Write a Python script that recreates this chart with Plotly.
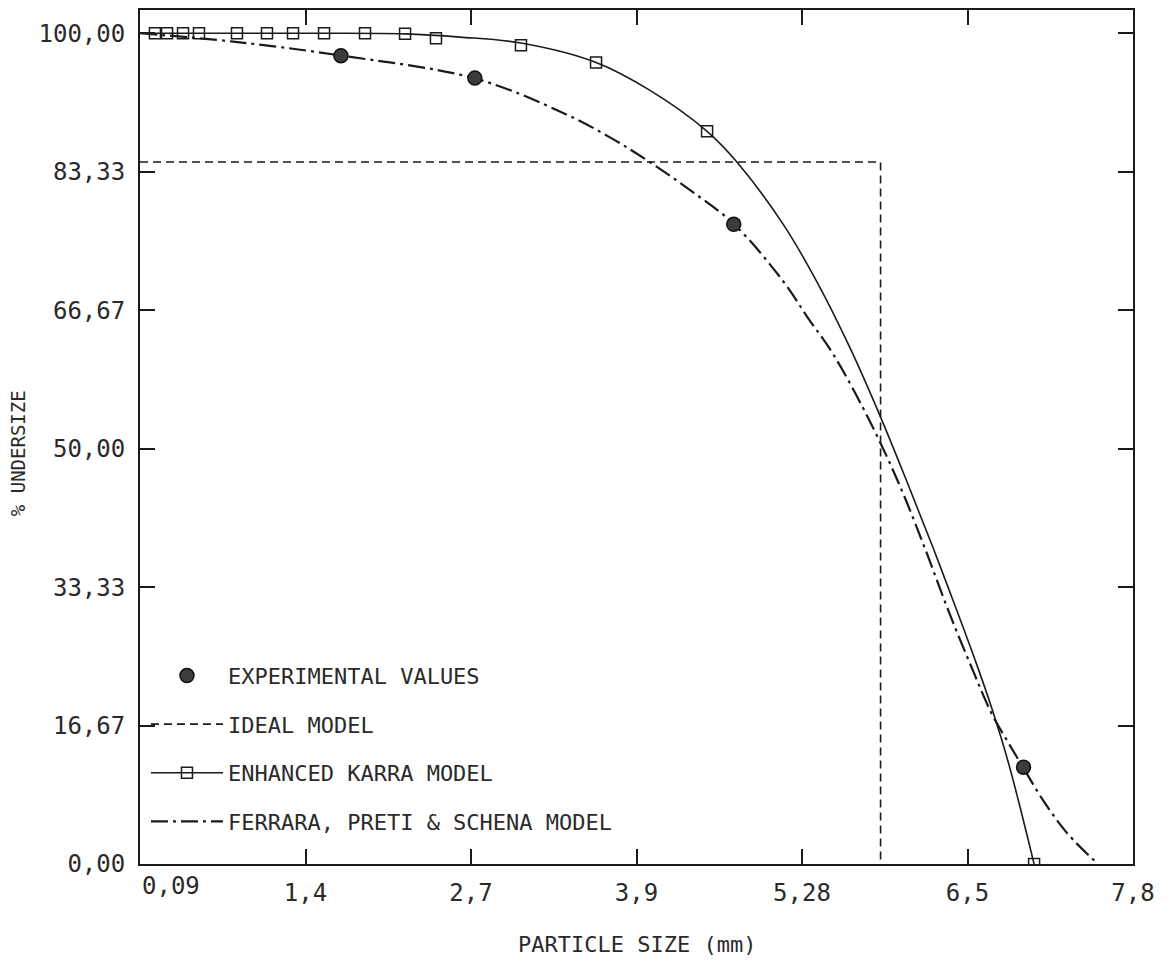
import plotly.graph_objects as go

# ---------------- data ----------------
x_tick_vals = [0.09, 1.375, 2.66, 3.945, 5.23, 6.515, 7.8]
x_tick_labels = ["0,09", "1,4", "2,7", "3,9", "5,28", "6,5", "7,8"]
y_tick_vals = [0, 16.67, 33.33, 50, 66.67, 83.33, 100]
y_tick_labels = ["0,00", "16,67", "33,33", "50,00", "66,67", "83,33", "100,00"]

exp_x = [1.65, 2.69, 4.70, 6.95]
exp_y = [97.3, 94.6, 77.0, 11.65]

ideal_x = [0.09, 5.84, 5.84]
ideal_y = [84.5, 84.5, 0.0]

karra_curve_x = [0.09, 1.332, 2.148, 2.575, 3.048, 3.631, 4.05, 4.493, 4.726, 5.083,
                 5.347, 5.603, 5.836, 6.045, 6.247, 6.441, 6.589, 6.705, 6.837, 7.032]
karra_curve_y = [100.0, 100.0, 99.93, 99.54, 98.82, 96.48, 93.12, 88.19, 84.47, 77.02,
                 70.05, 62.12, 53.95, 46.02, 38.09, 30.16, 23.91, 18.68, 11.94, 0.0]

karra_pts_x = [0.206, 0.30, 0.424, 0.548, 0.843, 1.076, 1.278, 1.519, 1.837, 2.148,
               2.388, 3.048, 3.631, 4.493, 7.032]
karra_pts_y = [100.0, 100.0, 100.0, 100.0, 100.0, 100.0, 100.0, 100.0, 100.0, 99.93,
               99.4, 98.57, 96.48, 88.19, 0.0]

fps_x = [0.09, 0.812, 1.651, 2.691, 3.367, 3.739, 4.05, 4.361, 4.702, 5.083, 5.277,
         5.471, 5.743, 5.983, 6.185, 6.372, 6.55, 6.705, 6.83, 6.946, 7.101, 7.288, 7.528]
fps_y = [100.0, 99.0, 97.32, 94.56, 90.47, 87.47, 84.47, 81.12, 77.02, 70.17, 65.72,
         61.4, 53.71, 45.78, 37.97, 30.28, 23.55, 18.02, 14.66, 11.65, 7.69, 3.72, 0.0]

# ---------------- styles ----------------
FONT = "DejaVu Sans Mono"
INK = "#1a1a1a"
TXT = "#2a2a2a"
FPS_DASH = "17px,5px,3px,5px"
IDEAL_DASH = "8px,5px"

fig = go.Figure()

fig.add_trace(go.Scatter(
    x=ideal_x, y=ideal_y, mode="lines", name="IDEAL MODEL",
    line=dict(color=INK, width=1.6, dash=IDEAL_DASH),
    legendgroup="b", legendrank=2))

fig.add_trace(go.Scatter(
    x=karra_curve_x, y=karra_curve_y, mode="lines", showlegend=False,
    line=dict(color=INK, width=1.6, shape="spline", smoothing=1.0),
    legendgroup="c"))

fig.add_trace(go.Scatter(
    x=fps_x, y=fps_y, mode="lines", name="FERRARA, PRETI &amp; SCHENA MODEL",
    line=dict(color=INK, width=2.2, dash=FPS_DASH, shape="spline", smoothing=1.0),
    legendgroup="d", legendrank=4))

fig.add_trace(go.Scatter(
    x=karra_pts_x, y=karra_pts_y, mode="markers", showlegend=False,
    marker=dict(symbol="square-open", size=11, color=INK, line=dict(width=1.5)),
    legendgroup="c"))

# legend entry for the line + marker series
fig.add_trace(go.Scatter(
    x=[None], y=[None], mode="lines+markers", name="ENHANCED KARRA MODEL",
    line=dict(color=INK, width=1.6),
    marker=dict(symbol="square-open", size=11, color=INK, line=dict(width=1.5)),
    legendgroup="c", legendrank=3))

fig.add_trace(go.Scatter(
    x=exp_x, y=exp_y, mode="markers", name="EXPERIMENTAL VALUES",
    marker=dict(symbol="circle", size=14, color="#3c3c3c",
                line=dict(color="#111111", width=1.5)),
    legendgroup="a", legendrank=1))

axis_common = dict(
    showgrid=False, zeroline=False, showline=True, linecolor=INK, linewidth=2,
    mirror="ticks", ticks="inside", ticklen=15, tickwidth=1.5, tickcolor=INK,
    tickfont=dict(family=FONT, size=24, color=TXT),
)

fig.update_xaxes(range=[0.09, 7.8], tickmode="array", tickvals=x_tick_vals,
                 ticktext=[""] + x_tick_labels[1:], ticklabelstandoff=6, **axis_common)
fig.update_yaxes(range=[0, 102.8], tickmode="array", tickvals=y_tick_vals,
                 ticktext=y_tick_labels, ticklabelstandoff=8, **axis_common)

fig.add_annotation(x=x_tick_vals[0], y=0, xref="x", yref="paper", text=x_tick_labels[0],
                   showarrow=False, xanchor="left", yanchor="top", yshift=-6,
                   font=dict(family=FONT, size=24, color=TXT))

fig.add_annotation(x=0.5, y=-0.0946, xref="paper", yref="paper", text="PARTICLE SIZE (mm)",
                   showarrow=False, xanchor="center", yanchor="middle",
                   font=dict(family=FONT, size=22, color=TXT))
fig.add_annotation(x=-0.1229, y=0.481, xref="paper", yref="paper", text="% UNDERSIZE",
                   showarrow=False, xanchor="center", yanchor="middle", textangle=-90,
                   font=dict(family=FONT, size=19, color=TXT))

fig.update_layout(
    width=1170, height=976,
    margin=dict(l=140, r=37, t=8, b=112),
    paper_bgcolor="white", plot_bgcolor="white",
    showlegend=True,
    legend=dict(x=0.006, y=0.245, xanchor="left", yanchor="top",
                bgcolor="rgba(0,0,0,0)", borderwidth=0,
                traceorder="grouped", tracegroupgap=17, itemwidth=72,
                font=dict(family=FONT, size=22, color=TXT)),
)

fig.write_html("out.html")
